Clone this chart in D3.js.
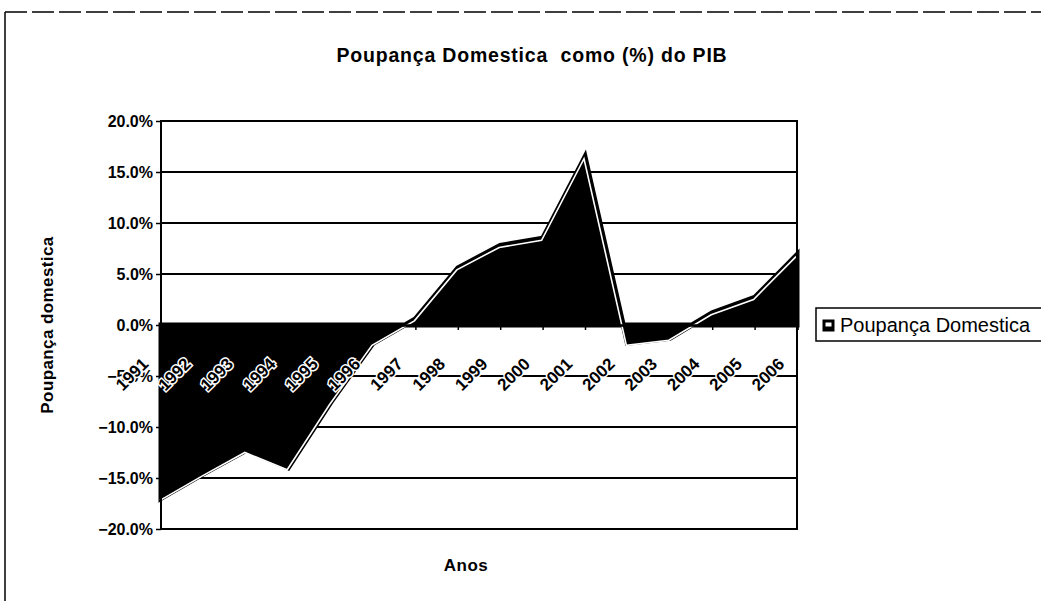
<!DOCTYPE html>
<html>
<head>
<meta charset="utf-8">
<script src="https://cdn.jsdelivr.net/npm/d3@7"></script>
<style>
  body { margin: 0; background: #fff; }
  svg { font-family: "Liberation Sans", Arial, sans-serif; }
</style>
</head>
<body>
<script>
// data
var anos = ["1991","1992","1993","1994","1995","1996","1997","1998","1999","2000","2001","2002","2003","2004","2005","2006"];
var poupanca = [-17.0, -14.6, -12.3, -14.0, -7.6, -1.8, 0.6, 5.6, 7.8, 8.5, 16.5, -1.8, -1.3, 1.2, 2.7, 6.9];
var yTicks = [-20, -15, -10, -5, 0, 5, 10, 15, 20];

var W = 1041, H = 601;
var plot = { left: 161, right: 797, top: 121, bottom: 529 };

var svg = d3.select("body").append("svg")
  .attr("width", W)
  .attr("height", H);

// outer chart frame (left + top edges visible in the scan)
svg.append("line")
  .attr("x1", 5).attr("y1", 12).attr("x2", 5).attr("y2", 601)
  .attr("stroke", "#000")
  .attr("stroke-width", 1.5);
svg.append("line")
  .attr("x1", 5).attr("y1", 12).attr("x2", 1041).attr("y2", 12)
  .attr("stroke", "#000")
  .attr("stroke-width", 1.5)
  .attr("stroke-dasharray", "22,5");

var x = d3.scalePoint()
  .domain(anos)
  .range([plot.left, plot.right]);

var y = d3.scaleLinear()
  .domain([-20, 20])
  .range([plot.bottom, plot.top]);

// gridlines
svg.append("g")
  .selectAll("line")
  .data(yTicks)
  .enter().append("line")
  .attr("x1", plot.left)
  .attr("x2", plot.right)
  .attr("y1", function(d) { return y(d); })
  .attr("y2", function(d) { return y(d); })
  .attr("stroke", "#000")
  .attr("stroke-width", 1.8);

// area
var area = d3.area()
  .x(function(d, i) { return x(anos[i]); })
  .y0(y(0))
  .y1(function(d) { return y(d); });

var line = d3.line()
  .x(function(d, i) { return x(anos[i]); })
  .y(function(d) { return y(d); });

svg.append("path")
  .datum(poupanca)
  .attr("d", area)
  .attr("fill", "#000")
  .attr("stroke", "#000")
  .attr("stroke-width", 5)
  .attr("stroke-linejoin", "miter");

svg.append("path")
  .datum(poupanca)
  .attr("d", line)
  .attr("fill", "none")
  .attr("stroke", "#fff")
  .attr("stroke-width", 1.6)
  .attr("transform", "translate(-1,2)");

// plot border
svg.append("rect")
  .attr("x", plot.left)
  .attr("y", plot.top)
  .attr("width", plot.right - plot.left)
  .attr("height", plot.bottom - plot.top)
  .attr("fill", "none")
  .attr("stroke", "#000")
  .attr("stroke-width", 2);

// y axis
var yAxis = d3.axisLeft(y)
  .tickValues(yTicks)
  .tickSize(5)
  .tickFormat(function(d) { return d3.format(".1f")(d) + "%"; });

var gy = svg.append("g")
  .attr("transform", "translate(" + plot.left + ",0)")
  .call(yAxis);
gy.select(".domain").remove();
gy.selectAll("line").attr("stroke-width", 1.5);
gy.selectAll("text")
  .attr("x", -8)
  .style("font-size", "16px")
  .style("font-weight", "bold")
  .attr("fill", "#000");

// x axis at zero
var xAxis = d3.axisBottom(x).tickSize(5);
var gx = svg.append("g")
  .attr("transform", "translate(0," + y(0) + ")")
  .call(xAxis);
gx.select(".domain").attr("stroke-width", 2.5);
gx.selectAll("line").attr("stroke-width", 1.5);
gx.selectAll("text")
  .attr("y", 0)
  .attr("dy", 0)
  .attr("transform", "translate(-12,40) rotate(-45)")
  .style("text-anchor", "end")
  .style("font-size", "17px")
  .style("font-weight", "bold")
  .attr("fill", "#000")
  .attr("stroke", "#fff")
  .attr("stroke-width", 3)
  .attr("paint-order", "stroke");

// titles
svg.append("text")
  .attr("x", 532)
  .attr("y", 62)
  .attr("text-anchor", "middle")
  .style("font-size", "19.5px")
  .style("font-weight", "bold")
  .style("letter-spacing", "0.8px")
  .attr("xml:space", "preserve")
  .text("Poupança Domestica  como (%) do PIB");

svg.append("text")
  .attr("x", 466)
  .attr("y", 571)
  .attr("text-anchor", "middle")
  .style("font-size", "17px")
  .style("font-weight", "bold")
  .style("letter-spacing", "0.5px")
  .text("Anos");

svg.append("text")
  .attr("transform", "translate(53," + y(0) + ") rotate(-90)")
  .attr("text-anchor", "middle")
  .style("font-size", "17px")
  .style("font-weight", "bold")
  .style("letter-spacing", "0.4px")
  .text("Poupança domestica");

// legend
var lg = svg.append("g").attr("transform", "translate(816,308)");
lg.append("rect")
  .attr("x", 0).attr("y", 0)
  .attr("width", 240).attr("height", 33)
  .attr("fill", "#fff")
  .attr("stroke", "#000")
  .attr("stroke-width", 1.5);
lg.append("rect")
  .attr("x", 7).attr("y", 12)
  .attr("width", 11).attr("height", 11)
  .attr("fill", "#000")
  .attr("stroke", "#000");
lg.append("rect")
  .attr("x", 9.5).attr("y", 14.5)
  .attr("width", 6).attr("height", 4)
  .attr("fill", "#fff");
lg.append("text")
  .attr("x", 24).attr("y", 24)
  .style("font-size", "20px")
  .text("Poupança Domestica");
</script>
</body>
</html>
